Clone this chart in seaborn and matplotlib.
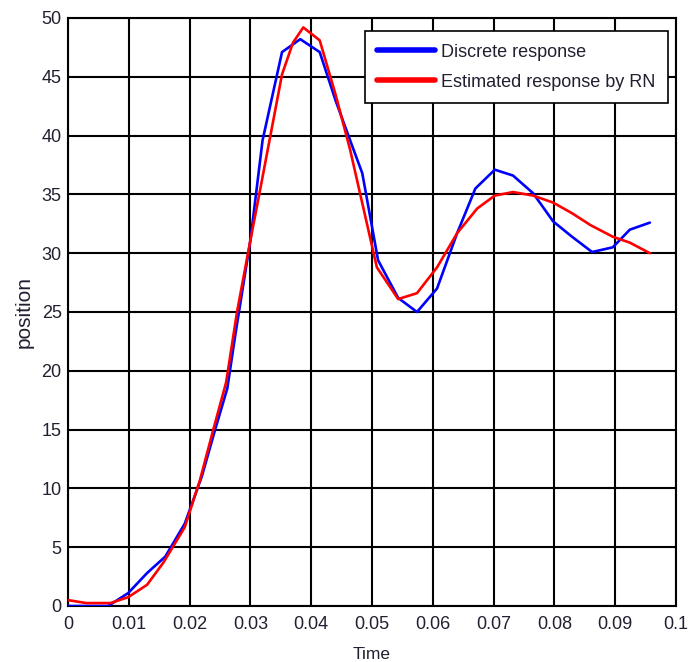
import matplotlib
matplotlib.use("Agg")
import matplotlib.pyplot as plt
import seaborn as sns
import pandas as pd

# Sampled step response of the discrete system
t_discrete = [0.0, 0.0066, 0.0099, 0.0130, 0.0160, 0.0192, 0.0220, 0.0242, 0.0262,
              0.0275, 0.0300, 0.0320, 0.0352, 0.0382, 0.0414, 0.0440, 0.0464, 0.0484,
              0.0510, 0.0543, 0.0574, 0.0607, 0.0640, 0.0670, 0.0702, 0.0732, 0.0765,
              0.0798, 0.0829, 0.0862, 0.0896, 0.0924, 0.0957]
y_discrete = [0.0, 0.0, 1.1, 2.8, 4.2, 7.0, 11.0, 15.0, 18.5,
              23.0, 31.1, 39.6, 47.1, 48.2, 47.1, 43.0, 39.6, 36.8,
              29.4, 26.2, 25.0, 27.0, 31.7, 35.5, 37.1, 36.6, 35.1,
              32.7, 31.4, 30.1, 30.5, 32.0, 32.6]

# Response estimated by the neural network (RN)
t_estimated = [0.0, 0.0030, 0.0070, 0.0099, 0.0130, 0.0157, 0.0192, 0.0217, 0.0239,
               0.0260, 0.0278, 0.0300, 0.0316, 0.0352, 0.0370, 0.0387, 0.0414, 0.0440,
               0.0464, 0.0508, 0.0543, 0.0574, 0.0607, 0.0640, 0.0673, 0.0702, 0.0732,
               0.0765, 0.0798, 0.0829, 0.0859, 0.0896, 0.0924, 0.0957]
y_estimated = [0.5, 0.25, 0.25, 0.75, 1.8, 3.7, 6.7, 10.7, 15.0,
               19.0, 25.0, 31.1, 35.4, 45.2, 47.9, 49.2, 48.1, 43.5,
               38.8, 28.8, 26.1, 26.6, 28.8, 31.7, 33.8, 34.9, 35.2,
               34.9, 34.3, 33.4, 32.4, 31.4, 30.9, 30.0]

series_names = ["Discrete response", "Estimated response by RN"]
x_ticks = [0, 0.01, 0.02, 0.03, 0.04, 0.05, 0.06, 0.07, 0.08, 0.09, 0.1]
x_ticklabels = ["0", "0.01", "0.02", "0.03", "0.04", "0.05", "0.06", "0.07", "0.08", "0.09", "0.1"]
y_ticks = [0, 5, 10, 15, 20, 25, 30, 35, 40, 45, 50]

df = pd.concat([
    pd.DataFrame({"Time": t_discrete, "position": y_discrete, "series": series_names[0]}),
    pd.DataFrame({"Time": t_estimated, "position": y_estimated, "series": series_names[1]}),
], ignore_index=True)

sns.set_theme(style="white")
plt.rcParams["font.family"] = ["Liberation Sans", "DejaVu Sans"]
text_color = "#202030"

fig = plt.figure(figsize=(6.99, 6.62), dpi=100)
ax = fig.add_axes([68 / 699, 56 / 662, 608 / 699, 588 / 662])

sns.lineplot(data=df, x="Time", y="position", hue="series", hue_order=series_names,
             palette=["#0000ff", "#ff0000"], linewidth=1.9, sort=False,
             estimator=None, ax=ax, zorder=3)

ax.set_xlim(0, 0.1)
ax.set_ylim(0, 50)
ax.set_xticks(x_ticks)
ax.set_xticklabels(x_ticklabels)
ax.set_yticks(y_ticks)
ax.tick_params(axis="both", length=0, labelsize=13, colors=text_color)
ax.tick_params(axis="x", pad=7.5)
ax.tick_params(axis="y", pad=4.5)

ax.grid(True, color="black", linewidth=1.5, linestyle="-")
ax.set_axisbelow(True)
for sp in ax.spines.values():
    sp.set_color("black")
    sp.set_linewidth(1.5)

ax.set_xlabel("Time", fontsize=12.5, color=text_color, labelpad=10)
ax.set_ylabel("position", fontsize=15, color=text_color, labelpad=6)

leg = ax.legend(loc="upper right", bbox_to_anchor=(0.987, 0.978), fontsize=13,
                frameon=True, fancybox=False, edgecolor="black", framealpha=1,
                handlelength=3.2, handletextpad=0.33, labelspacing=0.72,
                borderpad=0.7, borderaxespad=0)
leg.get_frame().set_linewidth(1.2)
for line in leg.get_lines():
    line.set_linewidth(4)
for txt in leg.get_texts():
    txt.set_color(text_color)

fig.savefig("out.png", dpi=100)
